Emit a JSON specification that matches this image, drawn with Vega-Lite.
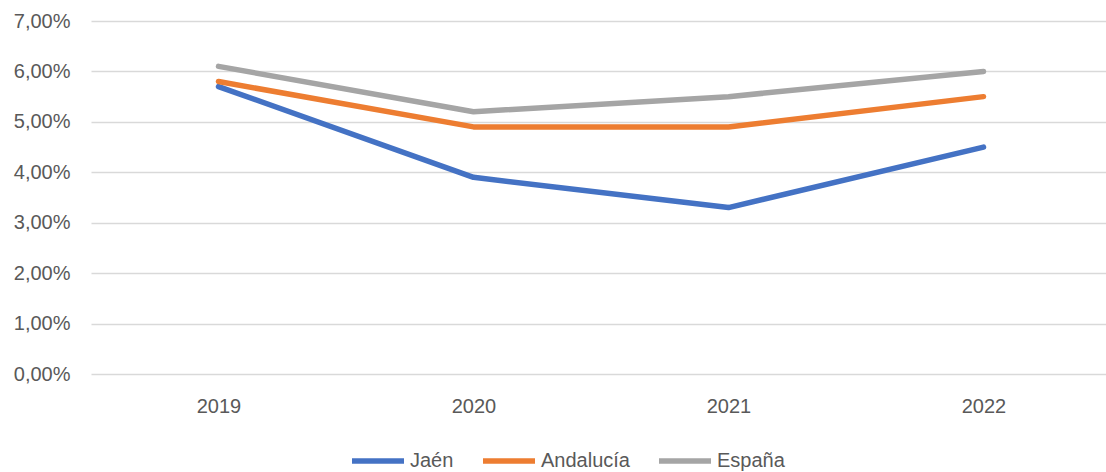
{
  "$schema": "https://vega.github.io/schema/vega-lite/v6.json",
  "autosize": {"type": "none"},
  "padding": {"left": 91, "top": 21, "right": 0, "bottom": 98},
  "width": 1020,
  "height": 353,
  "background": "white",
  "config": {
    "locale": {"number": {"decimal": ",", "thousands": ".", "grouping": [3], "currency": ["", " €"]}},
    "view": {"stroke": null},
    "font": "Liberation Sans"
  },
  "data": {
    "values": [
      {"year": "2019", "serie": "Jaén", "value": 0.057},
      {"year": "2020", "serie": "Jaén", "value": 0.039},
      {"year": "2021", "serie": "Jaén", "value": 0.033},
      {"year": "2022", "serie": "Jaén", "value": 0.045},
      {"year": "2019", "serie": "Andalucía", "value": 0.058},
      {"year": "2020", "serie": "Andalucía", "value": 0.049},
      {"year": "2021", "serie": "Andalucía", "value": 0.049},
      {"year": "2022", "serie": "Andalucía", "value": 0.055},
      {"year": "2019", "serie": "España", "value": 0.061},
      {"year": "2020", "serie": "España", "value": 0.052},
      {"year": "2021", "serie": "España", "value": 0.055},
      {"year": "2022", "serie": "España", "value": 0.060}
    ]
  },
  "mark": {"type": "line", "strokeWidth": 5.5, "strokeCap": "round", "strokeJoin": "round"},
  "encoding": {
    "x": {
      "field": "year", "type": "ordinal",
      "scale": {"type": "point", "padding": 0.5},
      "axis": {"title": null, "domain": false, "ticks": false, "grid": false, "labelAngle": 0,
               "labelFontSize": 20, "labelColor": "#595959", "labelPadding": 22}
    },
    "y": {
      "field": "value", "type": "quantitative",
      "scale": {"domain": [0, 0.07], "nice": false},
      "axis": {"title": null, "domain": false, "ticks": false, "format": ".2%",
               "values": [0, 0.01, 0.02, 0.03, 0.04, 0.05, 0.06, 0.07],
               "gridColor": "#D9D9D9", "gridWidth": 1.5,
               "labelFontSize": 20, "labelColor": "#595959", "labelPadding": 21}
    },
    "color": {
      "field": "serie", "type": "nominal",
      "scale": {"domain": ["Jaén", "Andalucía", "España"], "range": ["#4472C4", "#ED7D31", "#A5A5A5"]},
      "legend": {
        "title": null, "orient": "none", "direction": "horizontal",
        "legendX": 258, "legendY": 411, "padding": 0,
        "symbolType": "stroke", "symbolSize": 2704, "symbolStrokeWidth": 5.5,
        "labelFontSize": 20, "labelColor": "#595959", "labelOffset": 3,
        "columnPadding": 18
      }
    }
  }
}
